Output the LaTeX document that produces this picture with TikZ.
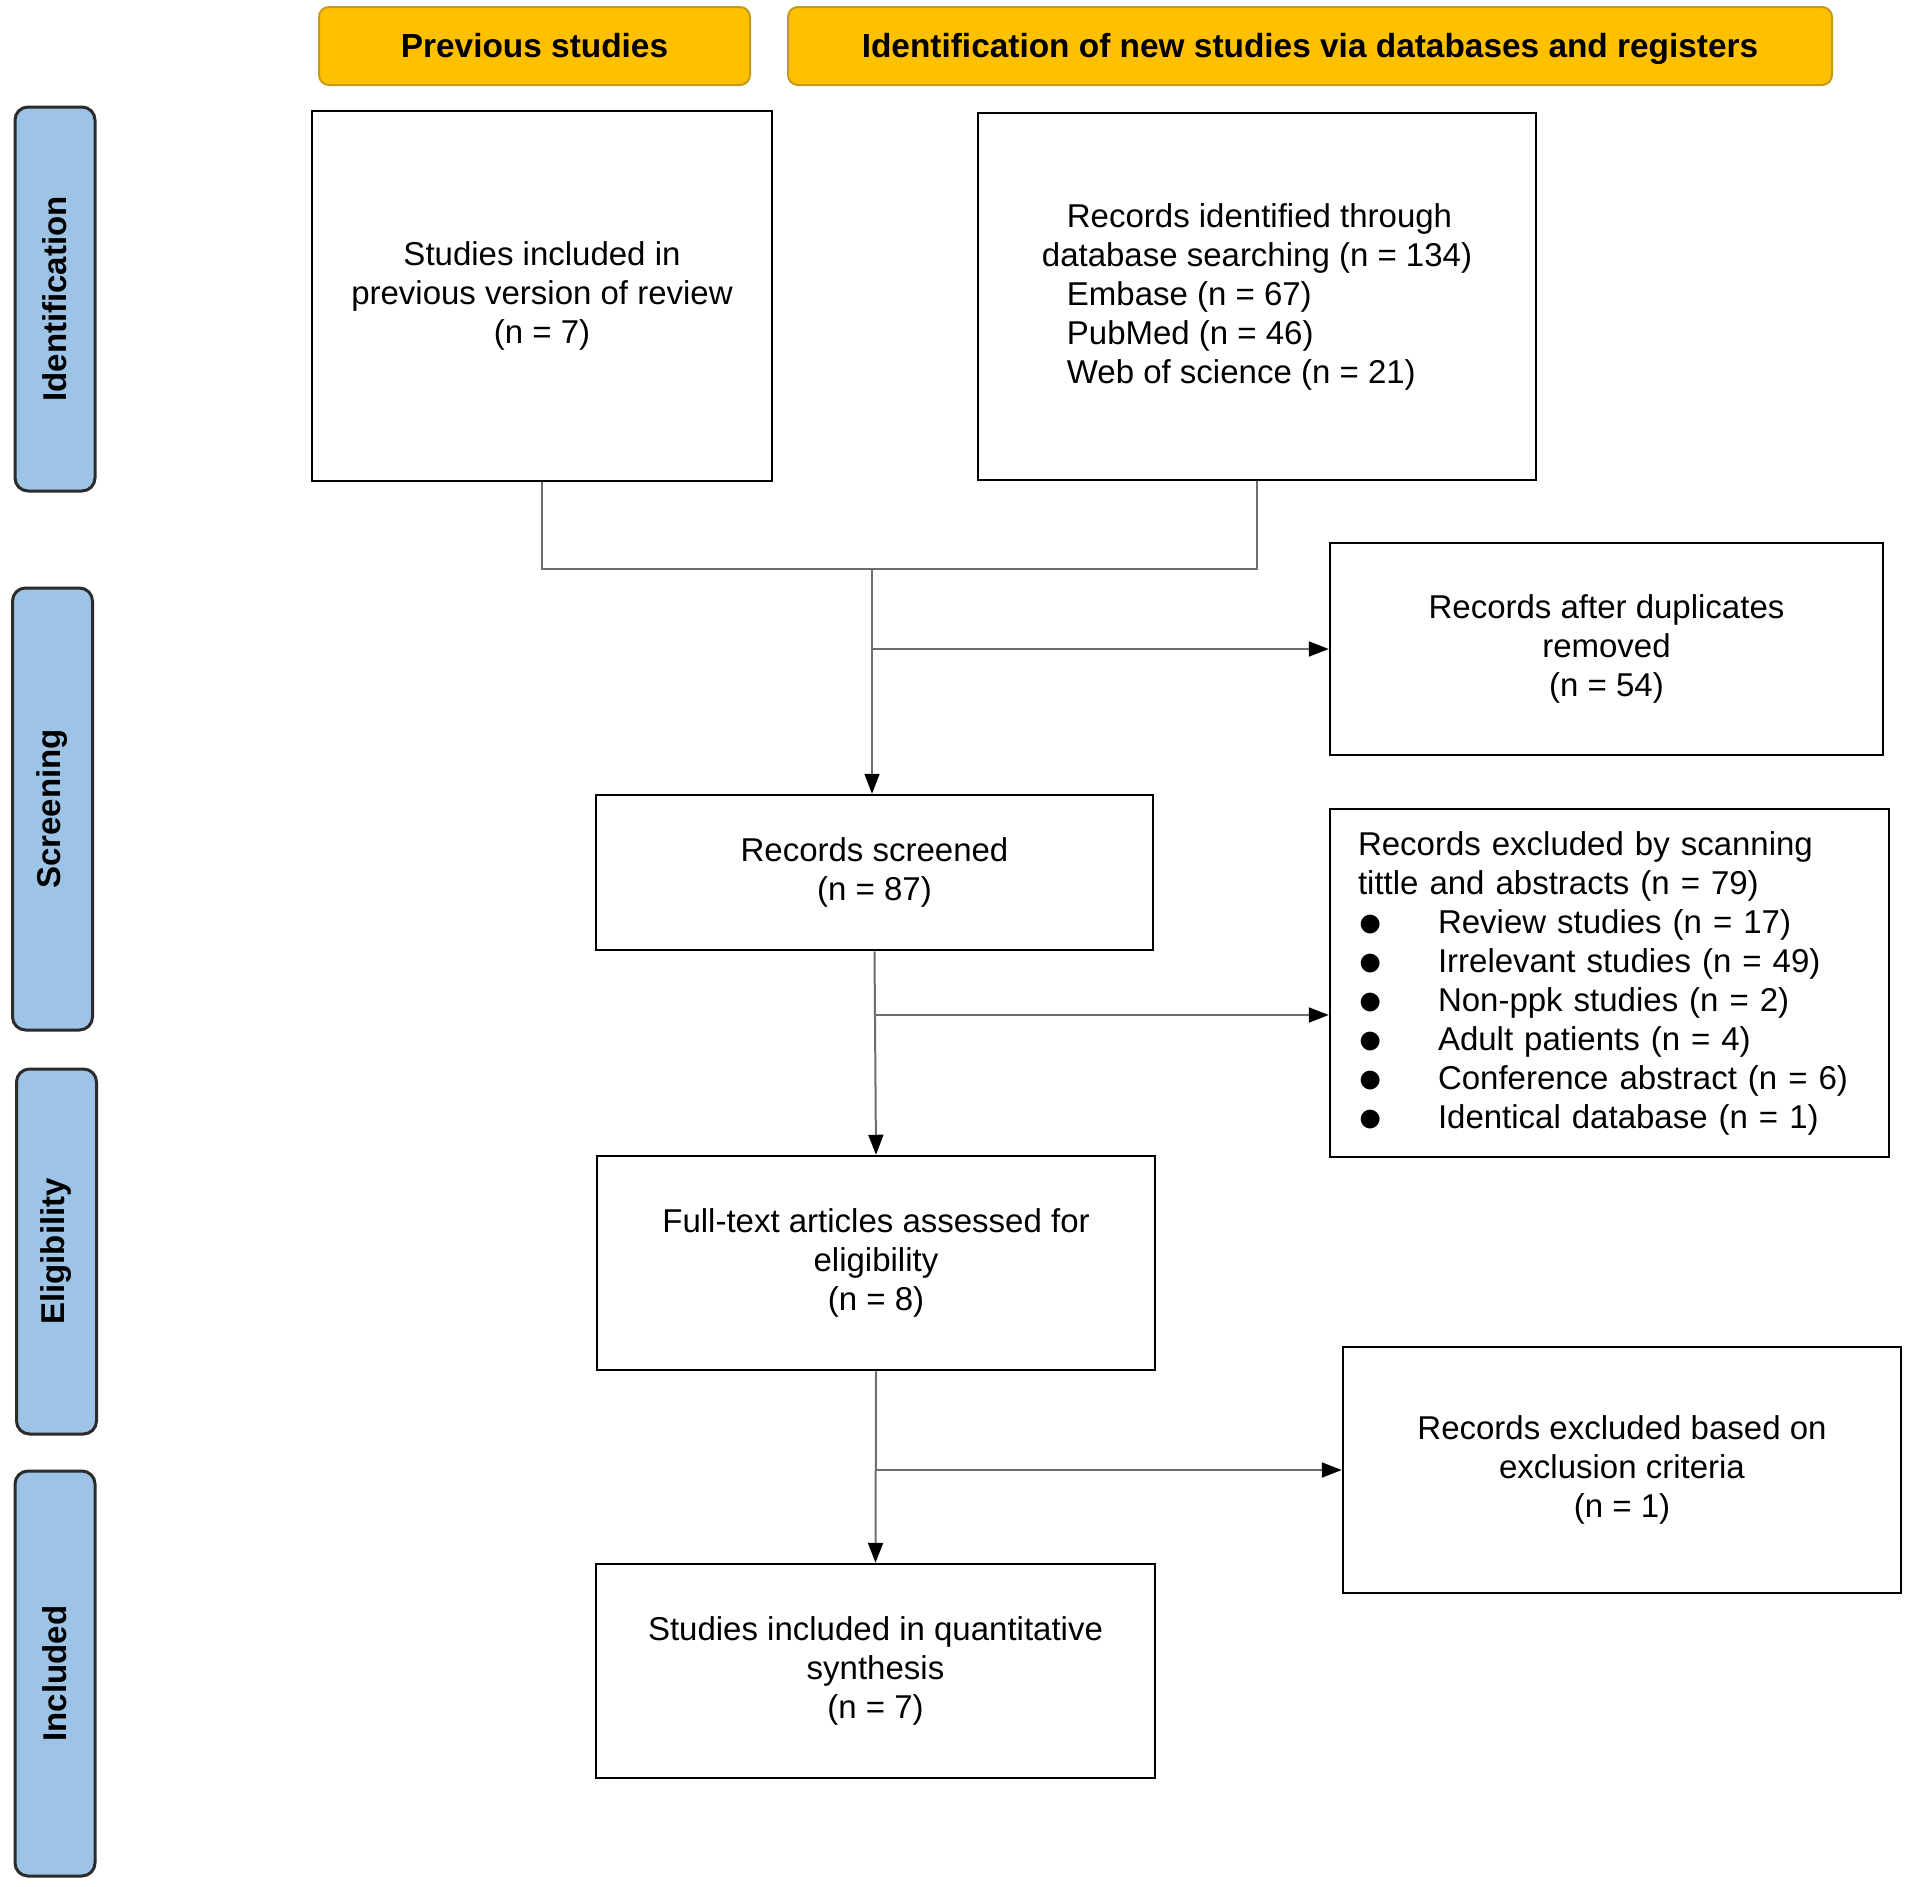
\documentclass[tikz,border=0pt]{standalone}
\usepackage{fontspec}
\setmainfont{Liberation Sans}
\usepackage{graphicx}
\usetikzlibrary{arrows.meta}
\definecolor{hdrfill}{HTML}{FFC000}
\definecolor{hdrline}{HTML}{C49A1C}
\definecolor{tabfill}{HTML}{9DC3E6}
\definecolor{tabline}{HTML}{2B2B2B}
\definecolor{linkgray}{HTML}{6E6E6E}
\newcommand{\blt}{\makebox[80pt][l]{\smash{\raisebox{-14pt}{\scalebox{2.1}{•}}}}}
\begin{document}
\begin{tikzpicture}[x=1pt,y=-1pt,font=\fontsize{33}{39}\selectfont,
  box/.style={draw=black,line width=2.5pt,fill=white,inner sep=0pt,align=center},
  hdr/.style={draw=hdrline,line width=2pt,fill=hdrfill,rounded corners=10pt,minimum height=78pt,font=\fontsize{33.4}{39}\selectfont\bfseries},
  tab/.style={draw=tabline,line width=3pt,fill=tabfill,rounded corners=13pt,rotate=90,minimum height=80pt,font=\fontsize{33}{39}\selectfont\bfseries},
  link/.style={draw=linkgray,line width=2pt},
  arr/.style={link,-{Triangle[length=20pt,width=15pt,color=black]}}]
 \useasboundingbox[fill=white] (0,0) rectangle (1909,1887);
 \node[hdr,minimum width=431pt,text depth=2pt] (hprev) at (534.5,46) {Previous studies};
 \node[hdr,minimum width=1044pt,text depth=2pt] (hnew) at (1310,46) {Identification of new studies via databases and registers};
 \node[tab,minimum width=384pt] (tident) at (55,299) {Identification};
 \node[tab,minimum width=442pt] (tscreen) at (52.5,809) {Screening};
 \node[tab,minimum width=365pt] (telig) at (56.5,1251.5) {Eligibility};
 \node[tab,minimum width=405pt] (tincl) at (55,1673.5) {Included};
 \node[box,minimum width=460pt,minimum height=370pt] (prev) at (542,296) {Studies included in\\previous version of review\\(n = 7)};
 \node[box,align=left,minimum width=558pt,minimum height=367pt] (db) at (1257,296.5) {\hspace*{25pt}Records identified through\\database searching (n = 134)\\\hspace*{25pt}Embase (n = 67)\\\hspace*{25pt}PubMed (n = 46)\\\hspace*{25pt}Web of science (n = 21)};
 \node[box,minimum width=553pt,minimum height=212pt] (dup) at (1606.5,649) {Records after duplicates\\removed\\(n = 54)};
 \node[box,minimum width=557pt,minimum height=155pt] (scr) at (874.5,872.5) {Records screened\\(n = 87)};
 \node[box,align=left,text width=503pt,minimum width=559pt,minimum height=348pt] (excl) at (1609.5,983) {Records excluded by scanning\\tittle and abstracts (n = 79)\\\blt Review studies (n = 17)\\\blt Irrelevant studies (n = 49)\\\blt Non-ppk studies (n = 2)\\\blt Adult patients (n = 4)\\\blt Conference abstract (n = 6)\\\blt Identical database (n = 1)};
 \node[box,minimum width=558pt,minimum height=214pt] (full) at (876,1263) {Full-text articles assessed for\\eligibility\\(n = 8)};
 \node[box,minimum width=558pt,minimum height=246pt] (crit) at (1622,1470) {Records excluded based on\\exclusion criteria\\(n = 1)};
 \node[box,minimum width=559pt,minimum height=214pt] (incl) at (875.5,1671) {Studies included in quantitative\\synthesis\\(n = 7)};
 \coordinate (j) at (872,569);
 \coordinate (k) at (875,1015);
 \draw[link] (prev.south) |- (j) -| (db.south);
 \draw[arr] (j) -- (j |- scr.north);
 \draw[arr] (j |- dup.west) -- (dup.west);
 \draw[arr] (scr.south) -- (full.north);
 \draw[arr] (k) -- (k -| excl.west);
 \draw[arr] (full.south) -- (incl.north);
 \draw[arr] (full.south |- crit.west) -- (crit.west);
\end{tikzpicture}
\end{document}
